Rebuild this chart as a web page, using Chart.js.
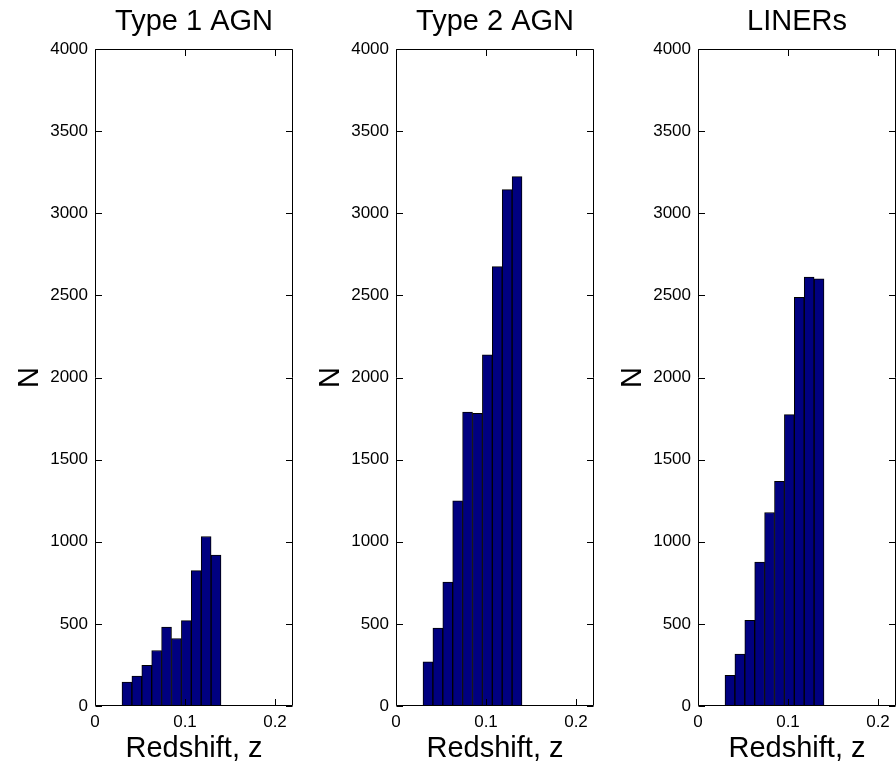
<!DOCTYPE html>
<html>
<head>
<meta charset="utf-8">
<script src="https://cdn.jsdelivr.net/npm/chart.js@4.4.0/dist/chart.umd.min.js"></script>
<style>
html, body { margin:0; padding:0; background:#fff; width:896px; height:765px; overflow:hidden; position:relative; }
canvas { position:absolute; top:0; }
</style>
</head>
<body>
<canvas id="c1" width="301" height="765" style="left:0px"></canvas>
<canvas id="c2" width="301" height="765" style="left:301px"></canvas>
<canvas id="c3" width="301" height="765" style="left:603px"></canvas>
<script>
// ---- data ----
const binCenters   = [0.0355, 0.0465, 0.0575, 0.0685, 0.0795, 0.0905, 0.1015, 0.1125, 0.1235, 0.1345];
const type1Counts  = [146, 182, 247, 338, 480, 411, 520, 824, 1032, 919];
const type2Counts  = [269, 475, 755, 1249, 1790, 1782, 2138, 2675, 3144, 3223];
const linerCounts  = [186, 316, 522, 876, 1178, 1368, 1774, 2488, 2612, 2601];
const panelTitles  = ['Type 1 AGN', 'Type 2 AGN', 'LINERs'];
const xTickValues  = [0, 0.1, 0.2];
const yTickValues  = [0, 500, 1000, 1500, 2000, 2500, 3000, 3500, 4000];
const xAxisLabel   = 'Redshift, z';
const yAxisLabel   = 'N';

const FONT = '"Liberation Sans", Arial, Helvetica, sans-serif';

const matlabBox = {
  id: 'matlabBox',
  afterDatasetsDraw(chart) {
    const {ctx, chartArea: a, scales: {x, y}} = chart;
    const L = Math.round(a.left) + 0.5, R = Math.round(a.right) - 0.5;
    const T = Math.round(a.top) + 0.5, B = Math.round(a.bottom) - 0.5;
    const tl = 6.5;
    ctx.save();
    ctx.strokeStyle = '#000';
    ctx.lineWidth = 1;
    ctx.beginPath();
    ctx.rect(L, T, R - L, B - T);
    x.ticks.forEach(t => {
      const px = Math.round(x.getPixelForValue(t.value)) + 0.5;
      ctx.moveTo(px, B); ctx.lineTo(px, B - tl);
      ctx.moveTo(px, T); ctx.lineTo(px, T + tl);
    });
    y.ticks.forEach(t => {
      const py = Math.round(y.getPixelForValue(t.value)) + 0.5;
      ctx.moveTo(L, py); ctx.lineTo(L + tl, py);
      ctx.moveTo(R, py); ctx.lineTo(R - tl, py);
    });
    ctx.stroke();
    ctx.restore();
  }
};

function makePanel(id, title, counts) {
  const points = binCenters.map((c, i) => ({x: c, y: counts[i]}));
  new Chart(document.getElementById(id), {
    type: 'bar',
    data: {
      datasets: [{
        data: points,
        backgroundColor: '#000080',
        borderColor: '#000000',
        borderWidth: 1,
        borderSkipped: false,
        barPercentage: 1,
        categoryPercentage: 1
      }]
    },
    options: {
      responsive: false,
      devicePixelRatio: 1,
      animation: false,
      layout: { padding: { left: 0, right: 8, top: 0, bottom: 0 } },
      plugins: {
        legend: { display: false },
        tooltip: { enabled: false },
        title: {
          display: true,
          text: title,
          fullSize: false,
          color: '#000',
          font: { family: FONT, size: 29, weight: 'normal', lineHeight: 1 },
          padding: { top: 7, bottom: 13 }
        }
      },
      scales: {
        x: {
          type: 'linear',
          min: 0,
          max: 0.22,
          offset: false,
          grid: { display: false, drawTicks: false },
          border: { display: false },
          afterBuildTicks(scale) { scale.ticks = xTickValues.map(v => ({value: v})); },
          afterFit(scale) { scale.height = 59; },
          ticks: {
            color: '#000',
            font: { family: FONT, size: 17 },
            padding: 6,
            maxRotation: 0,
            callback: v => String(v)
          },
          title: {
            display: true,
            text: xAxisLabel,
            color: '#000',
            font: { family: FONT, size: 29, lineHeight: 1 },
            padding: { top: 0, bottom: 2 }
          }
        },
        y: {
          type: 'linear',
          min: 0,
          max: 4000,
          grid: { display: false, drawTicks: false },
          border: { display: false },
          afterBuildTicks(scale) { scale.ticks = yTickValues.map(v => ({value: v})); },
          afterFit(scale) { scale.width = 95; },
          ticks: {
            color: '#000',
            font: { family: FONT, size: 17 },
            padding: 7,
            callback: v => String(v)
          },
          title: {
            display: true,
            text: yAxisLabel,
            color: '#000',
            font: { family: FONT, size: 29, lineHeight: 1 },
            padding: { top: 15, bottom: 0 }
          }
        }
      }
    },
    plugins: [matlabBox]
  });
}

makePanel('c1', panelTitles[0], type1Counts);
makePanel('c2', panelTitles[1], type2Counts);
makePanel('c3', panelTitles[2], linerCounts);
</script>
</body>
</html>
